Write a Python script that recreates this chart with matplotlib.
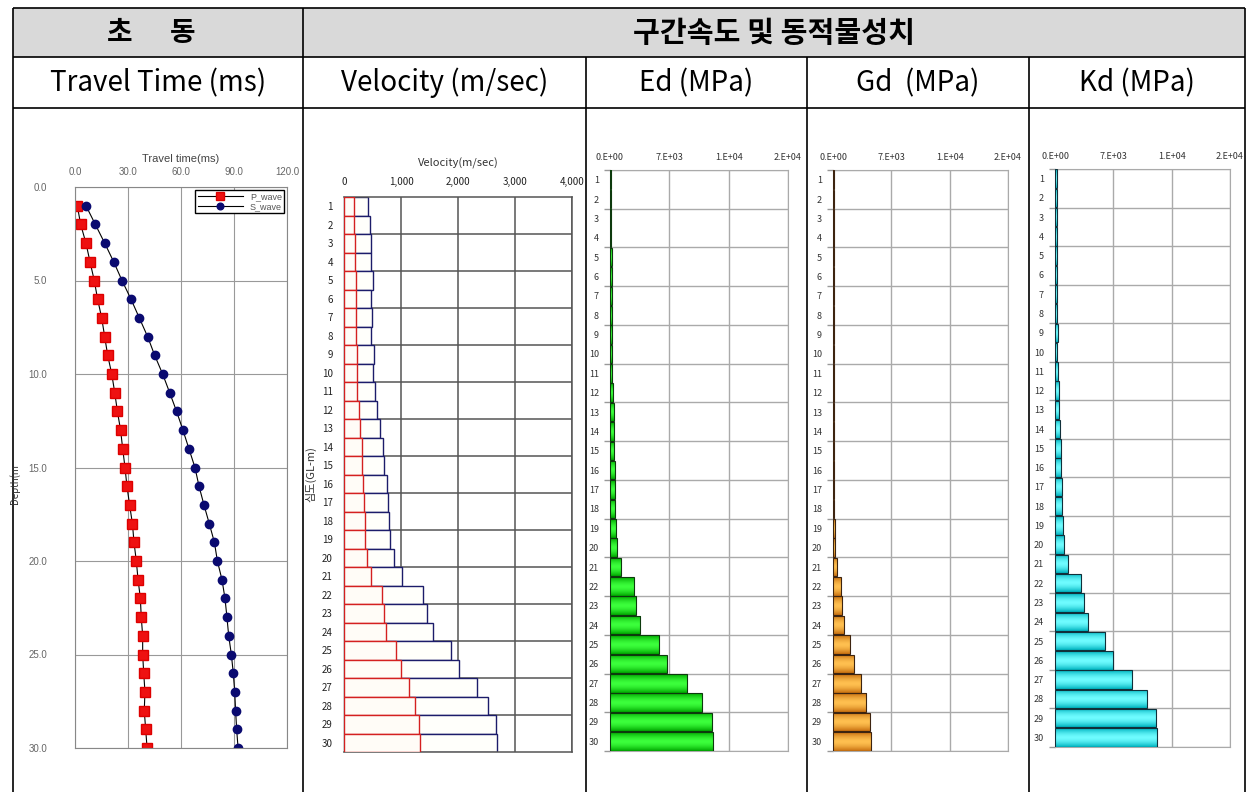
import matplotlib
matplotlib.use("Agg")
import matplotlib.pyplot as plt
import numpy as np
from matplotlib.colors import LinearSegmentedColormap
from matplotlib.patches import Rectangle
from matplotlib.ticker import StrMethodFormatter, FixedLocator

plt.rcParams["font.family"] = ["Noto Sans CJK KR", "DejaVu Sans"]

W, H = 1250, 792

# depth (m) / layer numbers
depth = list(range(1, 31))

# first-arrival travel times (ms)
p_time = [1.3, 3.2, 6.2, 8.5, 10.9, 12.8, 15.1, 16.8, 18.5, 20.8,
          22.5, 24.0, 25.8, 27.0, 28.3, 29.4, 30.9, 32.5, 33.4, 34.7,
          35.7, 37.0, 37.5, 38.3, 38.3, 38.9, 39.6, 39.2, 40.0, 40.8]
s_time = [6.2, 11.5, 16.8, 21.9, 26.6, 31.7, 36.4, 41.1, 45.1, 49.6,
          53.6, 57.5, 61.1, 64.5, 67.9, 70.2, 73.0, 76.0, 78.9, 80.6,
          83.2, 84.9, 86.0, 87.0, 88.5, 89.6, 90.4, 90.9, 91.5, 92.3]

# interval velocities (m/sec)
vp = [428, 451, 469, 480, 516, 480, 498, 480, 533, 516,
      551, 586, 639, 685, 709, 761, 779, 797, 814, 885,
      1019, 1388, 1453, 1564, 1869, 2009, 2332, 2531, 2660, 2677]
vs = [176, 176, 193, 199, 217, 205, 217, 205, 234, 228,
      234, 258, 287, 310, 322, 340, 357, 369, 375, 398,
      480, 662, 697, 744, 914, 996, 1148, 1254, 1324, 1342]

# dynamic moduli (MPa)
ed = [120, 120, 120, 120, 200, 200, 200, 200, 235, 235,
      235, 315, 430, 510, 510, 550, 630, 630, 710, 790,
      1260, 2790, 3030, 3540, 5740, 6690, 9050, 10820, 12030, 12110]
gd = [60, 60, 60, 60, 70, 70, 70, 70, 80, 80,
      80, 90, 110, 130, 130, 150, 160, 160, 190, 280,
      480, 960, 1120, 1360, 2080, 2480, 3320, 4000, 4440, 4520]
kd = [200, 240, 240, 240, 240, 240, 240, 240, 360, 280,
      360, 480, 520, 600, 680, 720, 800, 800, 920, 1080,
      1560, 3120, 3440, 3920, 6040, 6960, 9280, 11040, 12120, 12240]

modulus_ticks = [0, 7000, 14000, 21000]
modulus_tick_labels = ["0.E+00", "7.E+03", "1.E+04", "2.E+04"]

header_top = "초      동"
header_group = "구간속도 및 동적물성치"
column_titles = ["Travel Time (ms)", "Velocity (m/sec)", "Ed (MPa)", "Gd  (MPa)", "Kd (MPa)"]
column_edges = [13, 303, 586, 807, 1029, 1245]


def px_axes(fig, left, top, right, bottom):
    return fig.add_axes([left / W, 1 - bottom / H, (right - left) / W, (bottom - top) / H])


def shaded_barh(ax, rows, values, light, dark, edge):
    """Horizontal bars with a cylinder-style shading inside each bar."""
    bars = ax.barh(rows, values, height=0.96, color="none", edgecolor=edge, lw=0.8, zorder=4)
    cmap = LinearSegmentedColormap.from_list("shade", [light, dark])
    grad = np.abs(np.linspace(-1, 1, 40))[:, None] ** 1.6
    for bar in bars:
        x0, y0 = bar.get_x(), bar.get_y()
        w, h = bar.get_width(), bar.get_height()
        im = ax.imshow(grad, extent=(x0, x0 + w, y0, y0 + h), cmap=cmap,
                       vmin=0, vmax=1, aspect="auto", zorder=3, interpolation="bilinear")
        im.set_clip_path(bar)
    return bars


fig = plt.figure(figsize=(W / 100, H / 100), dpi=100)

# table frame
bg = fig.add_axes([0, 0, 1, 1])
bg.set_xlim(0, W)
bg.set_ylim(H, 0)
bg.axis("off")
bg.add_patch(Rectangle((13, 8), 1245 - 13, 49, facecolor="#d9d9d9", edgecolor="none"))
line_kw = dict(color="black", lw=1.2, solid_capstyle="butt")
for yy in [8, 57, 108]:
    bg.plot([13, 1245], [yy, yy], **line_kw)
for xx in [13, 303, 1245]:
    bg.plot([xx, xx], [8, H], **line_kw)
for xx in column_edges[2:-1]:
    bg.plot([xx, xx], [57, H], **line_kw)

bg.text(151, 33, header_top, ha="center", va="center", fontsize=20, fontweight="bold")
bg.text((303 + 1245) / 2, 33, header_group, ha="center", va="center", fontsize=21, fontweight="bold")
for i, title in enumerate(column_titles):
    cx = (column_edges[i] + column_edges[i + 1]) / 2
    bg.text(cx, 83, title, ha="center", va="center", fontsize=20)

# travel time curves
ax = px_axes(fig, 75, 187, 287, 748)
ax.plot(p_time, depth, color="black", lw=0.8, marker="s", ms=7,
        mfc="#ee1111", mec="#dd0000", label="P_wave")
ax.plot(s_time, depth, color="black", lw=0.8, marker="o", ms=6,
        mfc="#0a0a70", mec="#0a0a70", label="S_wave")
ax.set_xlim(0, 120)
ax.set_ylim(30, 0)
ax.set_xticks([0, 30, 60, 90, 120])
ax.set_yticks([0, 5, 10, 15, 20, 25, 30])
ax.xaxis.set_major_formatter(StrMethodFormatter("{x:.1f}"))
ax.yaxis.set_major_formatter(StrMethodFormatter("{x:.1f}"))
ax.xaxis.tick_top()
ax.tick_params(length=0, labelsize=7, colors="#666666", pad=7)
ax.tick_params(axis="y", pad=20)
for lab in ax.get_xticklabels() + ax.get_yticklabels():
    lab.set_fontfamily("Liberation Sans")
ax.grid(True, color="#999999", lw=0.8)
for sp in ax.spines.values():
    sp.set_color("#888888")
ax.xaxis.set_label_position("top")
ax.set_xlabel("Travel time(ms)", fontsize=8, color="#444444", labelpad=4, family="Liberation Sans")
ax.set_ylabel("Depth(m", fontsize=7, color="#333333")
ax.yaxis.set_label_coords(-0.26, 0.47)
leg = ax.legend(loc="upper right", fontsize=6.5, frameon=True, fancybox=False,
                edgecolor="black", framealpha=1, borderaxespad=0.3, handlelength=5,
                labelspacing=0.1, borderpad=0.25, markerscale=0.8)
for t in leg.get_texts():
    t.set_color("#555555")
    t.set_fontfamily("Liberation Sans")

# interval velocity bars
rows = depth
ax = px_axes(fig, 344, 197, 572, 752)
ax.barh(rows, vp, height=1.0, color="#fffffb", edgecolor="#1c1c6a", lw=1.0, zorder=2)
ax.barh(rows, vs, height=1.0, color="#fffcf7", edgecolor="#d42020", lw=1.0, zorder=3)
ax.set_xlim(0, 4000)
ax.set_ylim(30.5, 0.5)
ax.set_xticks([0, 1000, 2000, 3000, 4000])
ax.xaxis.set_major_formatter(StrMethodFormatter("{x:,.0f}"))
ax.xaxis.tick_top()
ax.set_yticks(rows)
ax.yaxis.set_minor_locator(FixedLocator(np.arange(2.5, 30, 2)))
ax.tick_params(axis="both", which="major", length=0, labelsize=7, colors="#222222")
ax.tick_params(axis="x", which="major", pad=7)
ax.tick_params(axis="y", which="major", pad=8)
ax.tick_params(axis="y", which="minor", length=0)
ax.grid(True, axis="x", color="#555555", lw=1.1, zorder=1)
ax.grid(True, axis="y", which="minor", color="#555555", lw=1.1, zorder=1)
for name, sp in ax.spines.items():
    sp.set_color("#555555")
    sp.set_linewidth(1.1)
ax.spines["left"].set_color("#bbbbbb")
ax.set_axisbelow(True)
ax.xaxis.set_label_position("top")
ax.set_xlabel("Velocity(m/sec)", fontsize=8, color="#333333", labelpad=8)
ax.set_ylabel("심도(GL-m)", fontsize=8, color="#333333")
ax.yaxis.set_label_coords(-0.12, 0.5)

# dynamic moduli bars
panels = [
    (ed, (610, 170, 788, 751), "#3cff3c", "#00a800", "#0d3a0d"),
    (gd, (833, 170, 1008, 751), "#ffc050", "#c87010", "#3d2410"),
    (kd, (1055, 169, 1230, 747), "#6ffcff", "#00b4c0", "#10303a"),
]
for values, box, light, dark, edge in panels:
    ax = px_axes(fig, *box)
    shaded_barh(ax, rows, values, light, dark, edge)
    ax.set_xlim(modulus_ticks[0], modulus_ticks[-1])
    ax.set_ylim(30.5, 0.5)
    ax.set_xticks(modulus_ticks)
    ax.set_xticklabels(modulus_tick_labels)
    ax.xaxis.tick_top()
    ax.set_yticks(rows)
    ax.yaxis.set_minor_locator(FixedLocator(np.arange(0.5, 31, 2)))
    ax.tick_params(axis="both", which="major", length=0, labelsize=6.5, colors="#333333")
    ax.tick_params(axis="x", which="major", pad=6)
    ax.tick_params(axis="y", which="major", pad=8)
    ax.tick_params(axis="y", which="minor", length=4, color="#999999", width=1)
    ax.grid(True, axis="x", color="#aaaaaa", lw=1.0, zorder=1)
    ax.grid(True, axis="y", which="minor", color="#aaaaaa", lw=1.0, zorder=1)
    for sp in ax.spines.values():
        sp.set_color("#aaaaaa")
    ax.spines["left"].set_color("#888888")

fig.savefig("out.png", dpi=100)
